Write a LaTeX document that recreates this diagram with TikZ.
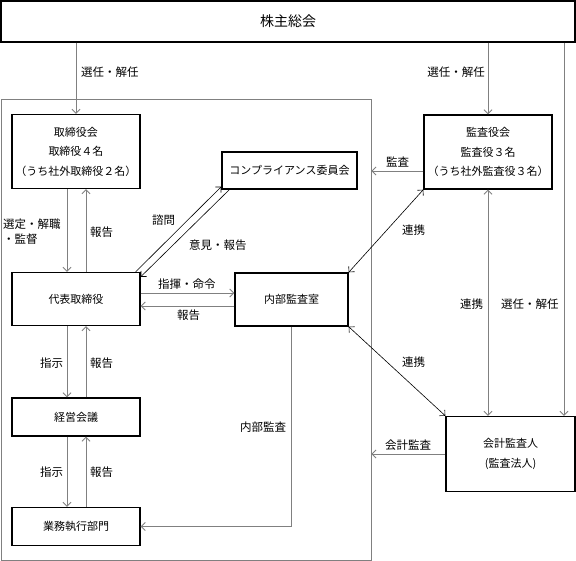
\documentclass[tikz,border=0pt]{standalone}
\usepackage{fontspec}
\setmainfont{Noto Sans CJK JP}
\usetikzlibrary{arrows.meta,calc}
\begin{document}
\begin{tikzpicture}[x=1pt,y=-1pt,
  box/.style={draw=black,line width=1.4pt,rectangle,align=center,inner sep=0pt,
    font=\fontsize{11}{19.5}\selectfont},
  tip/.tip={Straight Barb[length=4pt,width=8pt]},
  conn/.style={draw=gray,line width=0.9pt,-tip},
  diag/.style={draw=black,line width=0.6pt},
  lbl/.style={font=\fontsize{11.5}{15}\selectfont,inner sep=0pt,anchor=west},
]
\useasboundingbox (0,0) rectangle (576,561);

% group frame
\node[draw=gray,line width=0.9pt,minimum width=370pt,minimum height=461pt,inner sep=0pt] (grp) at (186,329.5) {};

% boxes
\node[box,minimum width=574pt,minimum height=41pt,font=\fontsize{14}{16}\selectfont] (top) at (288,21.5) {株主総会};
\node[box,minimum width=128pt,minimum height=74pt] (tor) at (76,151.5) {取締役会\\取締役４名\\（うち社外取締役２名）};
\node[box,minimum width=135pt,minimum height=37pt] (comp) at (289.5,170.5) {コンプライアンス委員会};
\node[box,minimum width=128pt,minimum height=74pt] (kansa) at (488,152) {監査役会\\監査役３名\\（うち社外監査役３名）};
\node[box,minimum width=128pt,minimum height=53pt] (daihyo) at (76,299) {代表取締役};
\node[box,minimum width=113pt,minimum height=53pt] (naibu) at (291.5,299.5) {内部監査室};
\node[box,minimum width=128pt,minimum height=38pt] (keiei) at (76,417) {経営会議};
\node[box,minimum width=128pt,minimum height=38pt] (gyomu) at (76,526.5) {業務執行部門};
\node[box,minimum width=129pt,minimum height=75pt] (kaikei) at (510.5,454) {会計監査人\\(監査法人)};

% helper coordinates
\coordinate (xd) at (67,0);
\coordinate (xu) at (86,0);
\coordinate (xr) at (564,0);
\coordinate (yr) at (0,293);
\coordinate (yl) at (0,306);
\coordinate (ya) at (0,171);

% from top
\draw[conn] (top.south -| tor.north) -- (tor.north);
\draw[conn] (top.south -| kansa.north) -- (kansa.north);
\draw[conn] (top.south -| xr) -- (kaikei.north -| xr);

% left column
\draw[conn] (tor.south -| xd) -- (daihyo.north -| xd);
\draw[conn] (daihyo.north -| xu) -- (tor.south -| xu);
\draw[conn] (daihyo.south -| xd) -- (keiei.north -| xd);
\draw[conn] (keiei.north -| xu) -- (daihyo.south -| xu);
\draw[conn] (keiei.south -| xd) -- (gyomu.north -| xd);
\draw[conn] (gyomu.north -| xu) -- (keiei.south -| xu);

% daihyo - naibu
\draw[conn] (daihyo.east |- yr) -- (naibu.west |- yr);
\draw[conn] (naibu.west |- yl) -- (daihyo.east |- yl);

% daihyo - compliance
\draw[diag,-tip] ($(daihyo.north east)+(-5,0)$) -- ($(comp.south west)+(0,-3)$);
\draw[diag,-tip] ($(comp.south west)+(8,0)$) -- ($(daihyo.north east)+(0,5)$);

% audit links
\draw[diag,tip-tip] (kansa.south west) -- (naibu.north east);
\draw[diag,tip-tip] (naibu.south east) -- (kaikei.north west);
\draw[draw=gray,line width=0.9pt,tip-tip] (kansa.south) -- (kaikei.north -| kansa.south);
\draw[conn] (kansa.west |- ya) -- (grp.east |- ya);
\draw[conn] (kaikei.west) -- (kaikei.west -| grp.east);
\draw[conn] (naibu.south) |- (gyomu.east);

% labels
\node[lbl] (l1) at (81,72) {選任・解任};
\node[lbl,anchor=east] (l2) at (485,72) {選任・解任};
\node[lbl,align=left] (l3) at (3,231.5) {選定・解職\\・監督};
\node[lbl] (l4) at (90,232) {報告};
\node[lbl] (l5) at (152,220) {諮問};
\node[lbl] (l6) at (189,245) {意見・報告};
\node[lbl] (l7) at (158,284) {指揮・命令};
\node[lbl] (l8) at (177,315) {報告};
\node[lbl] (l9) at (40,363) {指示};
\node[lbl] (l10) at (90,363) {報告};
\node[lbl] (l11) at (40,472) {指示};
\node[lbl] (l12) at (90,472) {報告};
\node[lbl] (l13) at (240,427) {内部監査};
\node[lbl] (l14) at (386,162) {監査};
\node[lbl] (l15) at (402,230) {連携};
\node[lbl] (l16) at (460,304) {連携};
\node[lbl] (l17) at (501,304) {選任・解任};
\node[lbl] (l18) at (402,362) {連携};
\node[lbl] (l19) at (385,445) {会計監査};
\end{tikzpicture}
\end{document}
